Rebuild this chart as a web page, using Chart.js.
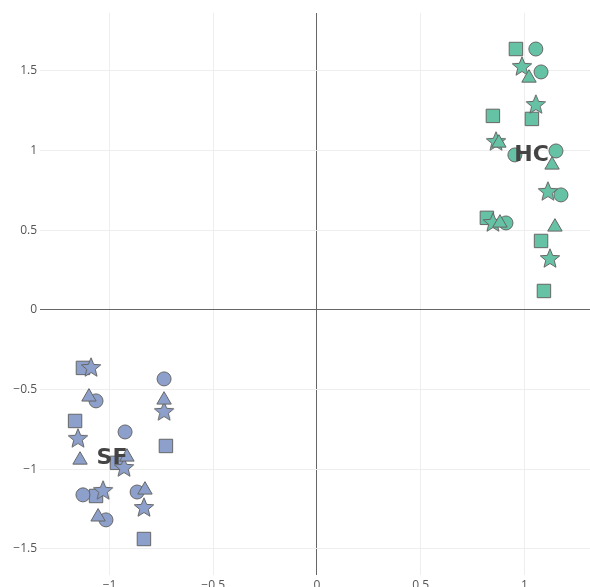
<!DOCTYPE html>
<html>
<head>
<meta charset="utf-8">
<script src="https://cdn.jsdelivr.net/npm/chart.js@4"></script>
<style>
  html, body { margin: 0; padding: 0; background: #fff; }
  canvas { display: block; }
</style>
</head>
<body>
<canvas id="c" width="590" height="587"></canvas>
<script>
// Group HC
const hcX = [0.959, 0.848, 1.036, 0.819, 1.080, 1.094,
             1.055, 1.080, 0.954, 1.152, 1.176, 0.911,
             0.988, 1.055, 0.863, 1.113, 0.848, 1.123,
             1.022, 0.877, 1.133, 0.882, 1.147];
const hcY = [1.638, 1.218, 1.199, 0.578, 0.433, 0.119,
             1.638, 1.494, 0.973, 0.998, 0.722, 0.546,
             1.532, 1.293, 1.061, 0.747, 0.552, 0.326,
             1.456, 1.048, 0.910, 0.546, 0.521];
const hcShape = ['rect','rect','rect','rect','rect','rect',
                 'circle','circle','circle','circle','circle','circle',
                 'star','star','star','star','star','star',
                 'triangle','triangle','triangle','triangle','triangle'];

// Group SF
const sfX = [-1.128, -1.166, -0.728, -0.964, -1.065, -0.834,
             -0.737, -1.065, -0.925, -1.128, -0.867, -1.017,
             -1.089, -0.737, -1.152, -0.930, -1.031, -0.834,
             -1.099, -0.737, -1.142, -0.916, -0.829, -1.055];
const sfY = [-0.364, -0.697, -0.854, -0.960, -1.168, -1.438,
             -0.433, -0.571, -0.766, -1.161, -1.143, -1.318,
             -0.358, -0.634, -0.803, -0.986, -1.130, -1.237,
             -0.546, -0.565, -0.942, -0.923, -1.130, -1.299];
const sfShape = ['rect','rect','rect','rect','rect','rect',
                 'circle','circle','circle','circle','circle','circle',
                 'star','star','star','star','star','star',
                 'triangle','triangle','triangle','triangle','triangle','triangle'];

// Group labels and where they sit
const groupNames = ['HC', 'SF'];
const labelX = [1.034, -0.988];
const labelY = [0.973, -0.932];

// Axis ticks
const xTicks = [-1, -0.5, 0, 0.5, 1];
const yTicks = [-1.5, -1, -0.5, 0, 0.5, 1, 1.5];

const GREEN = '#66c2a5';
const BLUE = '#8da0cb';
const EDGE = '#666666';

function starMarker(fill) {
  const size = 24, c = document.createElement('canvas');
  c.width = size; c.height = size;
  const g = c.getContext('2d');
  const cx = size / 2, cy = size / 2 + 1, ro = 10.2, ri = 4.5;
  g.beginPath();
  for (let i = 0; i < 10; i++) {
    const r = i % 2 === 0 ? ro : ri;
    const a = -Math.PI / 2 + i * Math.PI / 5;
    const px = cx + r * Math.cos(a), py = cy + r * Math.sin(a);
    if (i === 0) g.moveTo(px, py); else g.lineTo(px, py);
  }
  g.closePath();
  g.fillStyle = fill; g.fill();
  g.lineWidth = 1; g.strokeStyle = EDGE; g.stroke();
  return c;
}
const stars = { HC: starMarker(GREEN), SF: starMarker(BLUE) };
const radii = { circle: 7, rect: 9.5, triangle: 8.3, star: 10 };

function pts(xs, ys) { return xs.map((x, i) => ({ x, y: ys[i] })); }
function fmt(v) { return String(v).replace('-', '\u2212'); }

function makeSet(name, xs, ys, shapes, color) {
  return {
    label: name,
    data: pts(xs, ys),
    backgroundColor: color,
    borderColor: EDGE,
    borderWidth: 1,
    pointStyle: ctx => shapes[ctx.dataIndex] === 'star' ? stars[name] : shapes[ctx.dataIndex],
    pointRadius: ctx => radii[shapes[ctx.dataIndex]],
    pointHoverRadius: ctx => radii[shapes[ctx.dataIndex]]
  };
}

const groupLabels = {
  id: 'groupLabels',
  afterDatasetsDraw(chart) {
    const { ctx, scales } = chart;
    ctx.save();
    ctx.font = 'bold 22px "DejaVu Sans"';
    ctx.fillStyle = '#444';
    ctx.textAlign = 'center';
    ctx.textBaseline = 'middle';
    groupNames.forEach((n, i) => {
      ctx.fillText(n, scales.x.getPixelForValue(labelX[i]), scales.y.getPixelForValue(labelY[i]));
    });
    ctx.restore();
  }
};

const gridColor = c => c.tick && c.tick.value === 0 ? '#666' : '#eeeeee';
const tickFont = { family: '"Open Sans"', size: 12 };

new Chart(document.getElementById('c'), {
  type: 'scatter',
  data: {
    datasets: [
      makeSet('HC', hcX, hcY, hcShape, GREEN),
      makeSet('SF', sfX, sfY, sfShape, BLUE)
    ]
  },
  options: {
    responsive: false,
    animation: false,
    layout: { autoPadding: false, padding: { top: 13, right: 0, left: 0, bottom: 0 } },
    plugins: { legend: { display: false }, tooltip: { enabled: false } },
    scales: {
      x: {
        type: 'linear',
        min: -1.335, max: 1.316,
        afterBuildTicks: s => { s.ticks = xTicks.map(v => ({ value: v })); },
        afterFit: s => { s.height = 12; s.paddingLeft = 0; s.paddingRight = 0; },
        border: { display: false },
        grid: { drawTicks: false, color: gridColor, lineWidth: 1 },
        ticks: { padding: 3, color: '#555', font: tickFont, callback: v => fmt(v) }
      },
      y: {
        type: 'linear',
        min: -1.664, max: 1.864,
        afterBuildTicks: s => { s.ticks = yTicks.map(v => ({ value: v })); },
        afterFit: s => { s.width = 40; s.paddingTop = 0; s.paddingBottom = 0; },
        border: { display: false },
        grid: { drawTicks: false, color: gridColor, lineWidth: 1 },
        ticks: { padding: 3, color: '#555', font: tickFont, callback: v => fmt(v) }
      }
    }
  },
  plugins: [groupLabels]
});
</script>
</body>
</html>
